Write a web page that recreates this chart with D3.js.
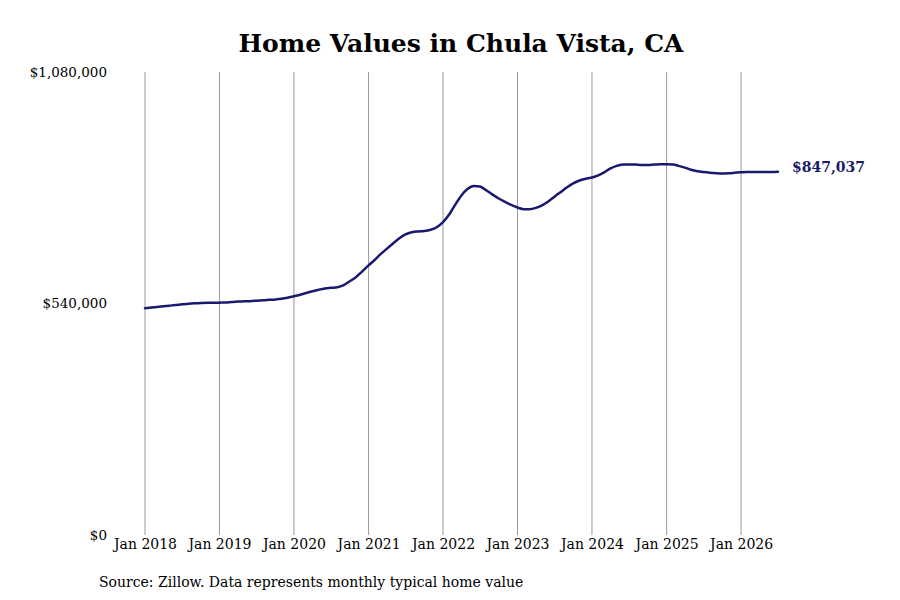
<!DOCTYPE html>
<html>
<head>
<meta charset="utf-8">
<script src="https://cdn.jsdelivr.net/npm/d3@7"></script>
<style>
  body { margin: 0; background: #fff; }
  svg text { font-family: "DejaVu Serif", serif; }
</style>
</head>
<body>
<div id="chart-area"></div>
<script>
// Monthly typical home value, Jan 2018 .. Jul 2026 (thousands of $)
const startMonth = "2018-01";
const values2018 = [529, 530.5, 532, 533.5, 535, 536.5, 538, 539.5, 540.5, 541, 541.5, 541.5];
const values2019 = [542, 542.5, 543.5, 544.5, 545, 545.5, 546.5, 547.5, 548.5, 549.5, 551, 553.5];
const values2020 = [557, 560.5, 564.5, 568.5, 572, 575, 576.5, 578, 583, 592, 602, 615];
const values2021 = [629, 642, 655, 668, 680, 692, 701, 706, 708, 709, 712, 718];
const values2022 = [730, 748, 770, 792, 807, 814, 813, 804, 794, 785, 777, 770];
const values2023 = [764, 760, 760, 763, 769, 778, 789, 800, 811, 820, 827, 831];
const values2024 = [834, 839, 846, 855, 861, 864, 864.5, 864, 863, 863, 864, 865];
const values2025 = [865, 864, 861, 857, 852, 848.5, 846.5, 845, 844, 843.5, 844, 845];
const values2026 = [846, 846.5, 846.5, 846.5, 846.5, 846.5, 847.037];

const yTicks = [0, 540000, 1080000];
const xTickYears = [2018, 2019, 2020, 2021, 2022, 2023, 2024, 2025, 2026];

const title = "Home Values in Chula Vista, CA";
const source = "Source: Zillow. Data represents monthly typical home value";

const lineColor = "#191970";

// Build monthly series
const allValues = [].concat(values2018, values2019, values2020, values2021,
    values2022, values2023, values2024, values2025, values2026);
const parseMonth = d3.timeParse("%Y-%m");
const start = parseMonth(startMonth);
const data = allValues.map((v, i) => ({
    date: d3.timeMonth.offset(start, i),
    value: v * 1000
}));

const W = 900, H = 600;
const svg = d3.select("#chart-area")
    .append("svg")
    .attr("width", W)
    .attr("height", H);

// Scales
const xScale = d3.scaleTime()
    .domain(d3.extent(data, d => d.date))
    .range([145, 778]);

const yScale = d3.scaleLinear()
    .domain([0, 1080000])
    .range([535, 72]);

// Title
svg.append("text")
    .attr("x", 461)
    .attr("y", 52)
    .attr("text-anchor", "middle")
    .style("font-size", "25px")
    .style("font-weight", "bold")
    .style("fill", "#000")
    .text(title);

// Vertical grid lines at each January
const yearDates = xTickYears.map(y => new Date(y, 0, 1));
svg.selectAll(".grid")
    .data(yearDates)
    .enter()
    .append("line")
    .attr("class", "grid")
    .attr("x1", d => xScale(d))
    .attr("x2", d => xScale(d))
    .attr("y1", yScale(1080000))
    .attr("y2", yScale(0))
    .style("stroke", "#999")
    .style("stroke-width", 1);

// X axis labels
const xAxis = d3.axisBottom(xScale)
    .tickValues(yearDates)
    .tickSize(0)
    .tickPadding(4)
    .tickFormat(d3.timeFormat("Jan %Y"));

const gx = svg.append("g")
    .attr("class", "axis x-axis")
    .attr("transform", `translate(0,${yScale(0)})`)
    .call(xAxis);
gx.select(".domain").remove();
gx.selectAll("text")
    .style("font-family", "DejaVu Serif, serif")
    .style("font-size", "14px")
    .style("fill", "#000");

// Y axis labels
const yAxis = d3.axisLeft(yScale)
    .tickValues(yTicks)
    .tickSize(0)
    .tickPadding(0)
    .tickFormat(d => "$" + d3.format(",")(d));

const gy = svg.append("g")
    .attr("class", "axis y-axis")
    .attr("transform", "translate(107,0)")
    .call(yAxis);
gy.select(".domain").remove();
gy.selectAll("text")
    .style("font-family", "DejaVu Serif, serif")
    .style("font-size", "13.5px")
    .style("fill", "#000");

// Line
const line = d3.line()
    .x(d => xScale(d.date))
    .y(d => yScale(d.value))
    .curve(d3.curveMonotoneX);

svg.append("path")
    .datum(data)
    .attr("fill", "none")
    .attr("d", line)
    .style("stroke", lineColor)
    .style("stroke-width", 2.5)
    .style("stroke-linejoin", "round")
    .style("stroke-linecap", "round");

// End value label
const last = data[data.length - 1];
svg.append("text")
    .attr("x", xScale(last.date) + 14)
    .attr("y", yScale(last.value))
    .style("font-size", "14px")
    .style("font-weight", "bold")
    .style("fill", lineColor)
    .text("$" + d3.format(",.0f")(last.value));

// Source note
svg.append("text")
    .attr("x", 99)
    .attr("y", 587)
    .style("font-size", "14px")
    .style("fill", "#000")
    .text(source);
</script>
</body>
</html>
